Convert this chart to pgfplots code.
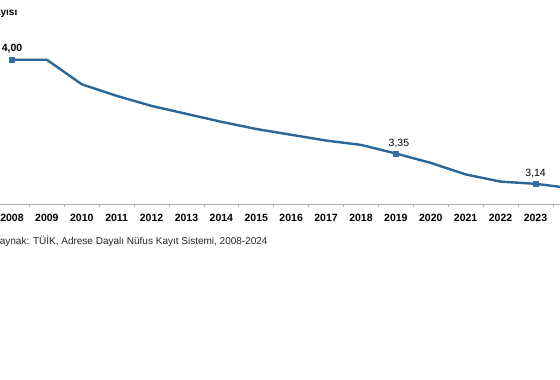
\documentclass[border=0pt]{standalone}
\usepackage{pgfplots}
\pgfplotsset{compat=1.18}
\usepackage{fontspec}
\setmainfont{Liberation Sans}
\definecolor{lineblue}{HTML}{2B6698}
\definecolor{markblue}{HTML}{3A6EA3}
\begin{document}
\begin{tikzpicture}[x=1pt,y=1pt]
\begin{axis}[
  at={(-5.45pt,176pt)}, anchor=south west,
  scale only axis, width=593.3pt, height=173.04pt,
  xmin=2007.5, xmax=2024.5, ymin=3, ymax=4.2,
  axis y line=none, axis x line*=bottom,
  x axis line style={gray!60, line width=0.8pt},
  xtick={2008,...,2023},
  xticklabels={2008,2009,2010,2011,2012,2013,2014,2015,2016,2017,2018,2019,2020,2021,2022,2023},
  major tick length=0pt,
  minor xtick={2008.5,2009.5,...,2023.5},
  minor tick length=3.5pt,
  tick align=outside,
  minor tick style={gray!60, line width=0.8pt},
  xticklabel style={font=\fontsize{10.5}{12}\selectfont\bfseries, text=black, yshift=-6.5pt},
  clip=false,
]
\addplot[lineblue, line width=2.4pt, mark=square*, mark indices={1,12,16,17},
  mark options={fill=markblue, draw=markblue, line width=0.4pt}, mark size=2.6pt]
coordinates {
(2008,4.00) (2009,4.00) (2010,3.83) (2011,3.75) (2012,3.68) (2013,3.625)
(2014,3.57) (2015,3.52) (2016,3.48) (2017,3.44) (2018,3.41) (2019,3.35)
(2020,3.285) (2021,3.205) (2022,3.155) (2023,3.14) (2024,3.11)
};
\node[font=\fontsize{10.5}{12}\selectfont\bfseries, anchor=south] at (axis cs:2008,4.00) [yshift=3.5pt] {4,00};
\node[font=\fontsize{10.5}{12}\selectfont, anchor=south] at (axis cs:2019,3.35) [yshift=2.5pt, xshift=3pt] {3,35};
\node[font=\fontsize{10.5}{12}\selectfont, anchor=south] at (axis cs:2023,3.14) [yshift=2pt] {3,14};
\end{axis}
\node[font=\fontsize{10}{12}\selectfont\bfseries, anchor=east, inner sep=0pt] at (17.5pt,367pt) {Kişi sayısı};
\node[font=\fontsize{10}{12}\selectfont, anchor=west, inner sep=0pt, text=black!85] at (-7pt,138.5pt) {Kaynak: TÜİK, Adrese Dayalı Nüfus Kayıt Sistemi, 2008-2024};
\pgfresetboundingbox
\useasboundingbox (0pt,0pt) rectangle (560pt,380pt);
\end{tikzpicture}
\end{document}
